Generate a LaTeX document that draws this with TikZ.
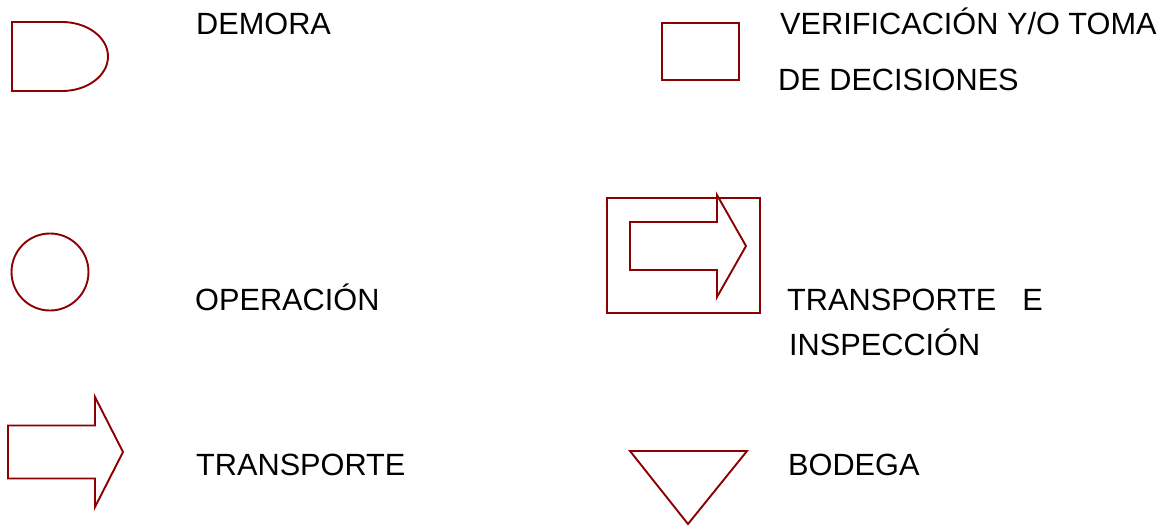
\documentclass[tikz,border=0pt]{standalone}
\usepackage{fontspec}
\setmainfont{Liberation Sans}
\definecolor{symbred}{RGB}{139,0,0}
\tikzset{
    symb/.style={draw=symbred, line width=1.9pt, line join=miter},
    lbl/.style={anchor=base west, inner sep=0pt, font=\fontsize{30.7pt}{36pt}\selectfont}
}
\begin{document}
\begin{tikzpicture}[x=1pt, y=-1pt]
    \useasboundingbox (0,0) rectangle (1173,525);

    % Draw the delay symbol
    \draw[symb] (62,91) -- (12,91) -- (12,22) -- (62,22) arc[start angle=-90, end angle=90, x radius=46, y radius=34.5];

    % Draw the check box and the circle
    \draw[symb] (662,23) rectangle (739,80);
    \draw[symb] (50,272) circle (38.5);

    % Draw the box round the second arrow
    \draw[symb] (607,198) rectangle (760,313);

    % Draw the two arrows
    \foreach \x/\y/\s/\h/\t in {8/452/26.5/55/28, 630/246/24/51/29} {
        \draw[symb] (\x,\y-\s) -- (\x+87,\y-\s) -- (\x+87,\y-\h) -- (\x+87+\t,\y)
            -- (\x+87,\y+\h) -- (\x+87,\y+\s) -- (\x,\y+\s) -- cycle;
    }

    % Draw the storage triangle
    \draw[symb] (630,451) -- (747,451) -- (688,524) -- cycle;

    % Draw the labels
    \node[lbl] (demora) at (196,34) {DEMORA};
    \node[lbl] (verif) at (780,34) {VERIFICACIÓN Y/O TOMA};
    \node[lbl] (decision) at (778,90) {DE DECISIONES};
    \node[lbl] (operacion) at (195,310) {OPERACIÓN};
    \node[lbl] (transpinsp) at (787,310) {TRANSPORTE\hspace{26pt}E};
    \node[lbl] (inspeccion) at (789,355) {INSPECCIÓN};
    \node[lbl] (transporte) at (196,475) {TRANSPORTE};
    \node[lbl] (bodega) at (788,475) {BODEGA};
\end{tikzpicture}
\end{document}
